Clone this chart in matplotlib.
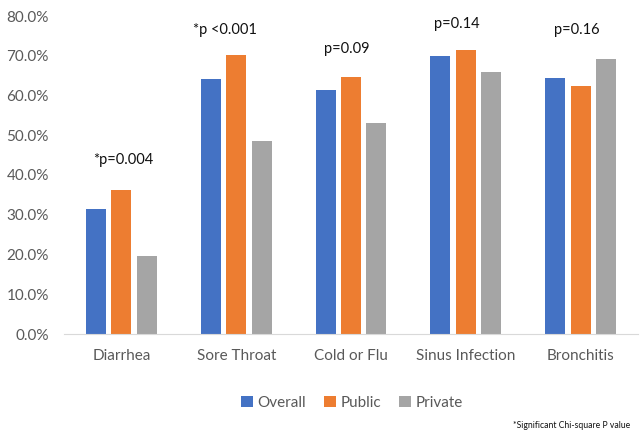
import matplotlib
matplotlib.use("Agg")
import matplotlib.pyplot as plt
import numpy as np
from matplotlib.ticker import FuncFormatter

categories = ["Diarrhea", "Sore Throat", "Cold or Flu", "Sinus Infection", "Bronchitis"]
overall = [31.5, 64.2, 61.5, 69.9, 64.3]
public = [36.3, 70.1, 64.7, 71.5, 62.4]
private = [19.5, 48.5, 53.0, 65.9, 69.1]
series_names = ["Overall", "Public", "Private"]
colors = ["#4472C4", "#ED7D31", "#A5A5A5"]

p_labels = ["*p=0.004", "*p <0.001", "p=0.09", "p=0.14", "p=0.16"]
p_x = [0.02, 0.90, 1.96, 2.92, 3.97]
p_y = [43.8, 76.6, 71.8, 78.1, 76.6]

plt.rcParams['font.family'] = ['Lato', 'DejaVu Sans']

fig = plt.figure(figsize=(6.43, 4.32), dpi=100)
ax = fig.add_axes([64/643, 1-334/432, (638-64)/643, (334-16)/432])

x = np.arange(len(categories))
w = 0.174
off = 0.222
for i, (vals, c, n) in enumerate(zip([overall, public, private], colors, series_names)):
    ax.bar(x + (i-1)*off, vals, width=w, color=c, label=n, zorder=2)

ax.set_xlim(-0.5, 4.5)
ax.set_ylim(0, 80)
ax.set_yticks(np.arange(0, 81, 10))
ax.yaxis.set_major_formatter(FuncFormatter(lambda v, p: f"{v:.1f}%"))
ax.set_xticks(x)
ax.set_xticklabels(categories)
for s in ["top", "right", "left"]:
    ax.spines[s].set_visible(False)
ax.spines["bottom"].set_color("#D9D9D9")
ax.tick_params(axis="both", length=0, colors="#595959", labelsize=11)
ax.tick_params(axis="y", pad=11)
ax.tick_params(axis="x", pad=11)

for t, xx, yy in zip(p_labels, p_x, p_y):
    ax.text(xx, yy, t, ha="center", va="center", fontsize=10.5, color="#111111")

leg = fig.legend(loc="center", bbox_to_anchor=(352/643, 1-403/432), ncol=3, frameon=False,
                 fontsize=11, handlelength=0.75, handleheight=0.75, handletextpad=0.3,
                 columnspacing=1.2, labelcolor="#595959")

fig.text(630/643, 1-425/432, "*Significant Chi-square P value", ha="right", va="center",
         fontsize=6.2, color="#111111")

fig.savefig("out.png", dpi=100)
